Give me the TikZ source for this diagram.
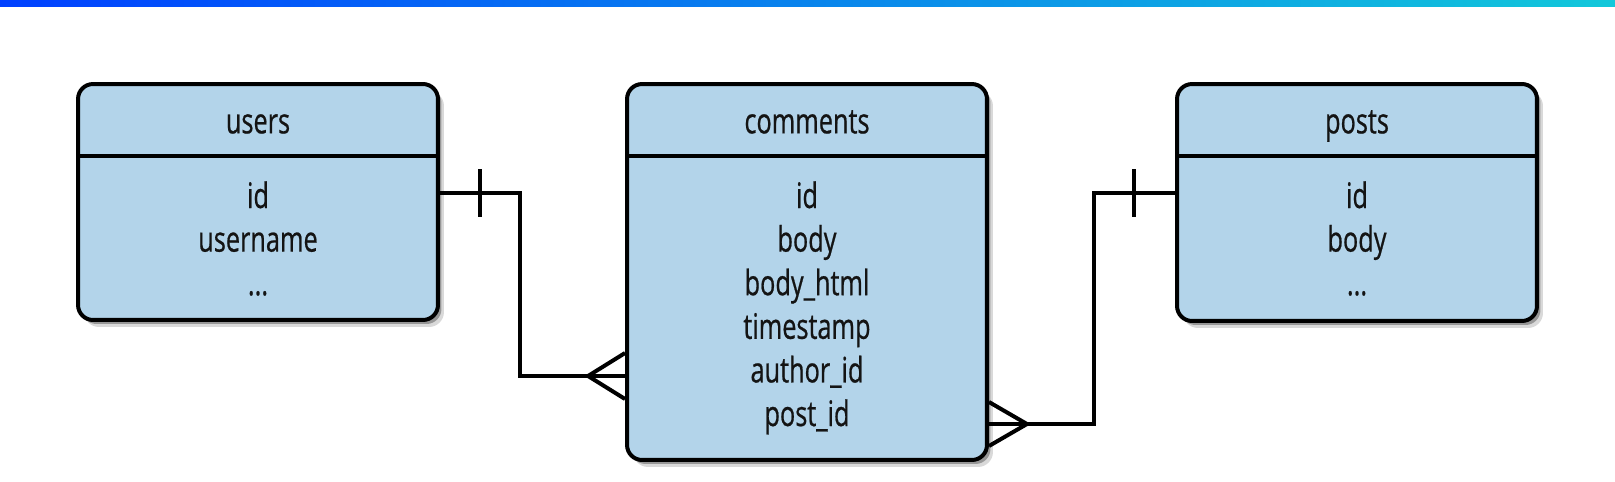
\documentclass[tikz,border=0pt]{standalone}
\usepackage{fontspec}
\setmainfont{Open Sans}[FakeStretch=0.72, FakeBold=0.6]
\usetikzlibrary{shadows}
\definecolor{tblue}{RGB}{179,212,234}
\definecolor{barl}{RGB}{0,64,255}
\definecolor{barr}{RGB}{18,200,218}
\definecolor{ink}{RGB}{20,20,20}

\tikzset{
    tablebox/.style={draw=black, line width=0.08cm, rounded corners=0.3cm,
        fill=tblue, minimum width=7.2cm, inner sep=0pt,
        drop shadow={shadow xshift=0.12cm, shadow yshift=-0.14cm, opacity=0.15, fill=black},
        drop shadow={shadow xshift=0.07cm, shadow yshift=-0.08cm, opacity=0.3, fill=black}},
    titlerow/.style={anchor=north, minimum width=7.2cm, minimum height=1.46cm,
        inner sep=0pt, text height=0.7cm, text depth=0.12cm,
        font=\fontsize{20}{24}\selectfont, text=ink},
    field/.style={anchor=base, inner sep=0pt, font=\fontsize{20}{24}\selectfont, text=ink},
    rule/.style={line width=0.08cm, draw=black},
    link/.style={line width=0.08cm, draw=black},
}

\begin{document}
\begin{tikzpicture}[x=0.02cm, y=-0.02cm]
    \useasboundingbox (0,0) rectangle (1615,481);
    \shade[left color=barl, right color=barr] (0,0) rectangle (1615,6);

    % users
    \node[tablebox, minimum height=4.72cm] (users) at (258,202) {};
    \node[titlerow] (userstitle) at (users.north) {users};
    \draw[rule] (userstitle.south west) -- (userstitle.south east);
    \node[field] (uid) at (258,208) {id};
    \node[field] (uname) at (258,251.6) {username};
    \node[field] (udots) at (258,295.2) {...};

    % comments
    \node[tablebox, minimum height=7.52cm] (comments) at (807,272) {};
    \node[titlerow] (commentstitle) at (comments.north) {comments};
    \draw[rule] (commentstitle.south west) -- (commentstitle.south east);
    \node[field] (cid) at (807,208) {id};
    \node[field] (cbody) at (807,251.6) {body};
    \node[field] (chtml) at (807,295.2) {body\_html};
    \node[field] (ctime) at (807,338.8) {timestamp};
    \node[field] (cauthor) at (807,382.4) {author\_id};
    \node[field] (cpost) at (807,426) {post\_id};

    % posts
    \node[tablebox, minimum height=4.74cm] (posts) at (1357,202.5) {};
    \node[titlerow] (poststitle) at (posts.north) {posts};
    \draw[rule] (poststitle.south west) -- (poststitle.south east);
    \node[field] (pid) at (1357,208) {id};
    \node[field] (pbody) at (1357,251.6) {body};
    \node[field] (pdots) at (1357,295.2) {...};

    % users -- comments
    \coordinate (ubend) at (520,193);
    \coordinate (cbend) at (520,376);
    \draw[link] (users.east |- ubend) -- (ubend) -- (cbend) -- (comments.west |- cbend);
    \draw[link] (users.east |- ubend) ++(40,-24) -- ++(0,48);
    \draw[link] (comments.west |- cbend) ++(0,-23) -- ++(-37,23) -- ++(37,23);

    % posts -- comments
    \coordinate (pbend) at (1094,193);
    \coordinate (cpbend) at (1094,424);
    \draw[link] (comments.east |- cpbend) -- (cpbend) -- (pbend) -- (posts.west |- pbend);
    \draw[link] (posts.west |- pbend) ++(-41,-24) -- ++(0,48);
    \draw[link] (comments.east |- cpbend) ++(0,-22) -- ++(38,22) -- ++(-38,22);
\end{tikzpicture}
\end{document}
